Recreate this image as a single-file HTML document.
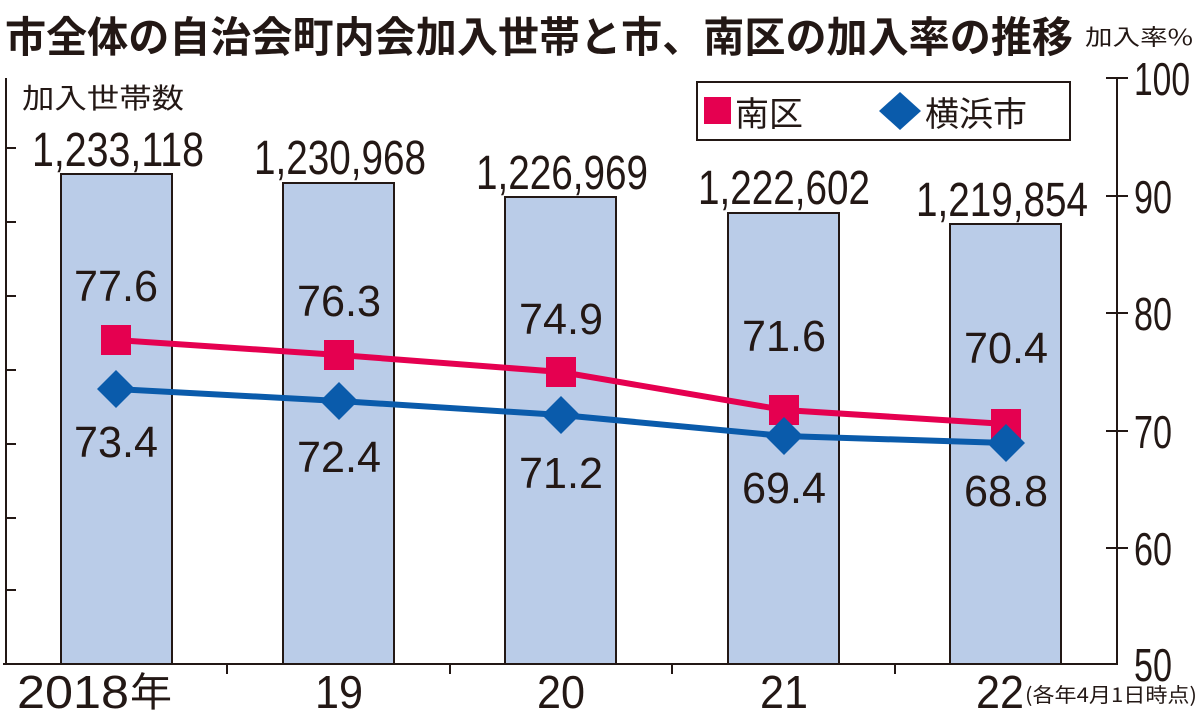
<!DOCTYPE html>
<html><head><meta charset="utf-8"><style>body{margin:0;background:#fff}svg{display:block}</style></head><body>
<svg width="1200" height="713" viewBox="0 0 1200 713" xmlns="http://www.w3.org/2000/svg" font-family="Liberation Sans, Noto Sans CJK JP, sans-serif" fill="#231815">
<text x="5" y="52" font-size="42" font-weight="bold" font-family="Noto Sans CJK JP, sans-serif" textLength="1068" lengthAdjust="spacingAndGlyphs">市全体の自治会町内会加入世帯と市、南区の加入率の推移</text>
<text x="1085" y="45" font-size="22" font-family="Noto Sans CJK JP, sans-serif" textLength="108" lengthAdjust="spacingAndGlyphs">加入率%</text>
<text x="22" y="108" font-size="28" font-family="Noto Sans CJK JP, sans-serif" textLength="162" lengthAdjust="spacingAndGlyphs">加入世帯数</text>
<g stroke="#231815" stroke-width="2">
<line x1="6" y1="78" x2="6" y2="664"/>
<line x1="3" y1="664" x2="1118" y2="664"/>
<line x1="1117" y1="78" x2="1117" y2="664"/>
<line x1="6" y1="148" x2="16" y2="148"/><line x1="6" y1="222" x2="16" y2="222"/><line x1="6" y1="296" x2="16" y2="296"/><line x1="6" y1="370" x2="16" y2="370"/><line x1="6" y1="444" x2="16" y2="444"/><line x1="6" y1="518" x2="16" y2="518"/><line x1="6" y1="590" x2="16" y2="590"/>
<line x1="227" y1="664" x2="227" y2="674"/><line x1="450" y1="664" x2="450" y2="674"/><line x1="672" y1="664" x2="672" y2="674"/><line x1="895" y1="664" x2="895" y2="674"/>
<line x1="1106" y1="78" x2="1128" y2="78"/><line x1="1106" y1="196" x2="1128" y2="196"/><line x1="1106" y1="313" x2="1128" y2="313"/><line x1="1106" y1="431" x2="1128" y2="431"/><line x1="1106" y1="548" x2="1128" y2="548"/>
</g>
<g fill="#bacce8" stroke="#231815" stroke-width="2">
<rect x="61" y="174" width="111" height="490"/>
<rect x="283" y="183" width="111" height="481"/>
<rect x="505" y="197" width="111" height="467"/>
<rect x="728" y="213" width="111" height="451"/>
<rect x="950" y="224" width="111" height="440"/>
</g>
<g font-size="48" text-anchor="middle">
<text x="118" y="166" textLength="172" lengthAdjust="spacingAndGlyphs">1,233,118</text>
<text x="340" y="174" textLength="172" lengthAdjust="spacingAndGlyphs">1,230,968</text>
<text x="562" y="189" textLength="172" lengthAdjust="spacingAndGlyphs">1,226,969</text>
<text x="784" y="204" textLength="172" lengthAdjust="spacingAndGlyphs">1,222,602</text>
<text x="1002" y="216" textLength="172" lengthAdjust="spacingAndGlyphs">1,219,854</text>
</g>
<g font-size="44" text-anchor="middle">
<text x="116" y="301" textLength="84" lengthAdjust="spacingAndGlyphs">77.6</text><text x="116" y="457" textLength="84" lengthAdjust="spacingAndGlyphs">73.4</text>
<text x="339" y="316" textLength="84" lengthAdjust="spacingAndGlyphs">76.3</text><text x="339" y="472" textLength="84" lengthAdjust="spacingAndGlyphs">72.4</text>
<text x="561" y="334" textLength="84" lengthAdjust="spacingAndGlyphs">74.9</text><text x="561" y="488" textLength="84" lengthAdjust="spacingAndGlyphs">71.2</text>
<text x="784" y="351" textLength="84" lengthAdjust="spacingAndGlyphs">71.6</text><text x="784" y="503" textLength="84" lengthAdjust="spacingAndGlyphs">69.4</text>
<text x="1006" y="363" textLength="84" lengthAdjust="spacingAndGlyphs">70.4</text><text x="1006" y="506" textLength="84" lengthAdjust="spacingAndGlyphs">68.8</text>
</g>
<polyline points="116,340 339,355 561,372 784,410 1006,424" fill="none" stroke="#e50050" stroke-width="6"/>
<polyline points="116,389 339,401 561,415 784,436 1006,443" fill="none" stroke="#0a5bab" stroke-width="6"/>
<g fill="#e50050">
<rect x="101" y="325" width="30" height="30"/><rect x="324" y="340" width="30" height="30"/><rect x="546" y="357" width="30" height="30"/><rect x="769" y="395" width="30" height="30"/><rect x="991" y="409" width="30" height="30"/>
</g>
<g fill="#0a5bab">
<polygon points="116,370 135,389 116,408 97,389"/><polygon points="339,382 358,401 339,420 320,401"/><polygon points="561,396 580,415 561,434 542,415"/><polygon points="784,417 803,436 784,455 765,436"/><polygon points="1006,424 1025,443 1006,462 987,443"/>
</g>
<rect x="697" y="82" width="373" height="58" fill="#fff" stroke="#231815" stroke-width="2"/>
<rect x="704" y="97" width="27" height="27" fill="#e50050"/>
<text x="735" y="126" font-size="34" font-family="Noto Sans CJK JP, sans-serif">南区</text>
<polygon points="900,92 921,111 900,130 879,111" fill="#0a5bab"/>
<text x="925" y="126" font-size="34" font-family="Noto Sans CJK JP, sans-serif">横浜市</text>
<g font-size="46">
<text x="1134" y="95" textLength="56" lengthAdjust="spacingAndGlyphs">100</text>
<text x="1134" y="213" textLength="38" lengthAdjust="spacingAndGlyphs">90</text>
<text x="1134" y="330" textLength="38" lengthAdjust="spacingAndGlyphs">80</text>
<text x="1134" y="448" textLength="38" lengthAdjust="spacingAndGlyphs">70</text>
<text x="1134" y="565" textLength="38" lengthAdjust="spacingAndGlyphs">60</text>
<text x="1134" y="681" textLength="38" lengthAdjust="spacingAndGlyphs">50</text>
</g>
<g font-size="46">
<text x="17" y="708" textLength="112" lengthAdjust="spacingAndGlyphs">2018</text>
<text x="130" y="706" font-family="Noto Sans CJK JP, sans-serif" font-size="40" textLength="42" lengthAdjust="spacingAndGlyphs">年</text>
<text x="339" y="708" text-anchor="middle" textLength="48" lengthAdjust="spacingAndGlyphs">19</text>
<text x="561" y="708" text-anchor="middle" textLength="48" lengthAdjust="spacingAndGlyphs">20</text>
<text x="784" y="708" text-anchor="middle" textLength="48" lengthAdjust="spacingAndGlyphs">21</text>
<text x="1000" y="708" text-anchor="middle" textLength="48" lengthAdjust="spacingAndGlyphs">22</text>
</g>
<text x="1025" y="702" font-size="20" font-family="Noto Sans CJK JP, sans-serif" textLength="172" lengthAdjust="spacingAndGlyphs">(各年4月1日時点)</text>
</svg>
</body></html>
